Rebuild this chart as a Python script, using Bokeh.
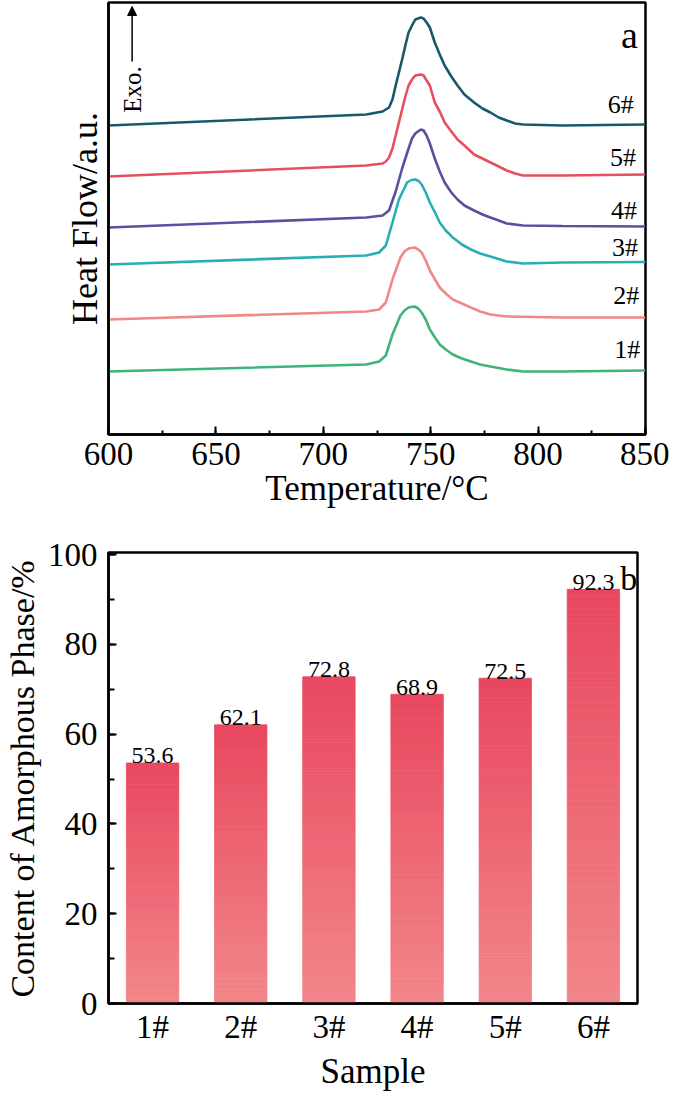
from math import pi
from bokeh.plotting import figure
from bokeh.layouts import column
from bokeh.models import (Range1d, FactorRange, SingleIntervalTicker, FixedTicker,
                          Label, Arrow, NormalHead, ColumnDataSource)
from bokeh.core.properties import value
from bokeh.embed import file_html
from bokeh.resources import INLINE

FONT = "Liberation Serif, Times New Roman, serif"

# ---------------- data: panel a (DSC curves, arbitrary units) ----------------
samples = ["1#", "2#", "3#", "4#", "5#", "6#"]

t_s1 = [600, 720.0, 726.0, 729.1, 732.2, 735.9, 737.8, 739.7, 741.0, 742.5, 744.2, 745.8, 747.7, 749.6, 752.0, 754.2, 757.0, 760.3, 764.5, 768.7, 773.0, 777.8, 785.4, 793.0, 811.2, 850]
hf_s1 = [6.3, 7.0, 7.3, 7.9, 10.0, 11.9, 12.4, 12.7, 12.75, 12.8, 12.6, 12.2, 11.5, 10.5, 9.7, 9.0, 8.5, 8.0, 7.6, 7.3, 7.0, 6.8, 6.5, 6.3, 6.3, 6.4]

t_s2 = [600, 720.0, 726.0, 729.1, 732.2, 735.9, 737.8, 739.7, 741.0, 742.5, 744.2, 745.8, 747.7, 749.6, 752.0, 754.2, 757.0, 760.3, 764.5, 768.7, 773.0, 777.8, 785.4, 811.2, 850]
hf_s2 = [11.5, 12.3, 12.5, 13.2, 15.5, 17.7, 18.3, 18.6, 18.65, 18.7, 18.5, 18.2, 17.4, 16.4, 15.5, 14.7, 14.1, 13.5, 13.1, 12.7, 12.3, 12.0, 11.8, 11.7, 11.7]

t_s3 = [600, 720.0, 726.0, 729.1, 732.2, 735.2, 739.0, 741.0, 742.8, 744.4, 745.8, 747.7, 749.6, 752.0, 754.2, 757.0, 760.3, 764.5, 768.7, 773.0, 777.8, 785.4, 793.0, 811.2, 850]
hf_s3 = [17.0, 17.9, 18.2, 18.9, 21.2, 23.5, 25.2, 25.45, 25.5, 25.35, 25.0, 24.2, 23.2, 22.2, 21.2, 20.4, 19.7, 19.0, 18.5, 18.1, 17.8, 17.3, 17.1, 17.2, 17.25]

t_s4 = [600, 720.0, 727.6, 730.6, 733.7, 736.7, 739.7, 741.3, 742.8, 745.4, 746.7, 748.1, 749.6, 751.9, 754.2, 756.5, 759.6, 762.5, 765.7, 770.2, 774.1, 777.8, 781.7, 785.4, 793.0, 811.2, 850]
hf_s4 = [20.7, 21.7, 21.9, 22.4, 24.3, 26.6, 28.6, 29.6, 30.1, 30.5, 30.4, 29.9, 29.1, 27.6, 26.3, 25.2, 24.2, 23.5, 22.9, 22.4, 22.0, 21.7, 21.4, 21.1, 20.9, 20.85, 20.8]

t_s5 = [600, 720.0, 727.6, 729.1, 730.6, 732.2, 733.7, 735.2, 736.7, 738.2, 739.7, 741.3, 742.8, 745.4, 746.7, 748.1, 749.6, 751.9, 754.2, 756.5, 759.6, 762.5, 765.7, 770.2, 774.1, 777.8, 781.7, 785.4, 789.3, 793.0, 811.2, 850]
hf_s5 = [25.8, 26.9, 27.1, 27.3, 27.7, 28.6, 29.9, 31.2, 32.5, 33.8, 34.9, 35.5, 35.9, 36.0, 35.9, 35.4, 34.9, 33.2, 32.3, 31.2, 30.3, 29.5, 28.9, 28.0, 27.6, 27.2, 26.8, 26.4, 26.1, 25.9, 25.9, 26.0]

t_s6 = [600, 720.0, 727.6, 729.1, 730.6, 732.2, 733.7, 735.2, 736.7, 738.2, 739.7, 741.3, 742.8, 745.4, 746.7, 748.1, 749.6, 751.9, 754.2, 756.5, 759.6, 762.5, 765.7, 770.2, 774.1, 777.8, 781.7, 785.4, 789.3, 793.0, 811.2, 850]
hf_s6 = [30.9, 32.0, 32.3, 32.5, 32.7, 33.5, 34.9, 36.2, 37.5, 38.9, 40.2, 40.9, 41.5, 41.7, 41.6, 41.2, 40.7, 39.2, 38.0, 36.9, 35.8, 34.9, 34.0, 33.2, 32.6, 32.2, 31.7, 31.4, 31.1, 31.0, 30.9, 31.0]

temps = [t_s1, t_s2, t_s3, t_s4, t_s5, t_s6]
flows = [hf_s1, hf_s2, hf_s3, hf_s4, hf_s5, hf_s6]

# ---------------- data: panel b (bar chart) ----------------
amorphous = [53.6, 62.1, 72.8, 68.9, 72.5, 92.3]

# ---------------- styling ----------------
curve_colors = ["#3db57a", "#f08886", "#28afb4", "#5751a1", "#e5505c", "#17596a"]
label_pos_t = [841.5, 841.0, 840.5, 840.0, 839.5, 838.5]
label_pos_hf = [8.5, 13.9, 18.7, 22.4, 27.7, 33.0]


def style_axis(ax, tick_size="33px", title_size="35px"):
    ax.axis_line_color = "black"
    ax.axis_line_width = 2.5
    ax.major_tick_line_color = "black"
    ax.minor_tick_line_color = "black"
    ax.major_tick_line_width = 2
    ax.minor_tick_line_width = 2
    ax.major_tick_out = 0
    ax.minor_tick_out = 0
    ax.major_label_text_font = FONT
    ax.major_label_text_font_size = tick_size
    ax.major_label_text_color = "black"
    ax.axis_label_text_font = FONT
    ax.axis_label_text_font_size = title_size
    ax.axis_label_text_font_style = "normal"
    ax.axis_label_text_color = "black"


# ---------------- panel a ----------------
p1 = figure(width=669, height=528, x_range=Range1d(600, 850), y_range=Range1d(0, 43.2),
            output_backend="svg", toolbar_location=None,
            min_border_left=99, min_border_right=24, min_border_top=2, min_border_bottom=94)
p1.xgrid.visible = False
p1.ygrid.visible = False
p1.outline_line_color = "black"
p1.outline_line_width = 2.5
p1.outline_line_alpha = 1

for t, hf, c in zip(temps, flows, curve_colors):
    p1.line(t, hf, line_color=c, line_width=2.6)

src_lab = ColumnDataSource(dict(x=label_pos_t, y=label_pos_hf, text=samples))
p1.text(x="x", y="y", text="text", source=src_lab, text_font=value(FONT),
        text_font_size="26px", text_align="center", text_baseline="middle", text_color="black")

xa = p1.xaxis[0]
xa.ticker = SingleIntervalTicker(interval=50, num_minor_ticks=2)
style_axis(xa)
xa.major_tick_in = 8
xa.minor_tick_in = 4
xa.major_label_standoff = 8
xa.axis_label = "Temperature/°C"
xa.axis_label_standoff = 1

ya = p1.yaxis[0]
ya.ticker = FixedTicker(ticks=[])
style_axis(ya, title_size="36px")
ya.axis_label = "Heat Flow/a.u."
ya.axis_label_standoff = 4

p1.add_layout(Label(x=842.5, y=40.0, text="a", text_font=FONT, text_font_size="38px",
                    text_align="center", text_baseline="alphabetic", text_color="black"))
p1.add_layout(Label(x=611, y=34.5, text="Exo.", angle=pi / 2, text_font=FONT,
                    text_font_size="25px", text_align="center", text_baseline="middle",
                    text_color="black"))
p1.add_layout(Arrow(end=NormalHead(size=9, fill_color="black", line_color="black"),
                    x_start=611, y_start=37.3, x_end=611, y_end=42.8,
                    line_color="black", line_width=1.5))

# ---------------- panel b ----------------
p2 = figure(width=661, height=565, x_range=FactorRange(factors=samples, range_padding=0),
            y_range=Range1d(0, 100.5), output_backend="svg", toolbar_location=None,
            min_border_left=99, min_border_right=13, min_border_top=24, min_border_bottom=85)
p2.xgrid.visible = False
p2.ygrid.visible = False
p2.outline_line_color = "black"
p2.outline_line_width = 2.5
p2.outline_line_alpha = 1

grad_top = (232, 71, 95)
grad_bot = (242, 134, 138)
nseg = 110
bx, bb, bt, bc = [], [], [], []
for s, v in zip(samples, amorphous):
    for i in range(nseg):
        f = (i + 0.5) / nseg
        r = round(grad_bot[0] + (grad_top[0] - grad_bot[0]) * f)
        g = round(grad_bot[1] + (grad_top[1] - grad_bot[1]) * f)
        b = round(grad_bot[2] + (grad_top[2] - grad_bot[2]) * f)
        bx.append(s)
        bb.append(v * i / nseg)
        bt.append(v * (i + 1) / nseg)
        bc.append("#%02x%02x%02x" % (r, g, b))
src_bar = ColumnDataSource(dict(x=bx, bottom=bb, top=bt, color=bc))
p2.vbar(x="x", bottom="bottom", top="top", width=0.594, fill_color="color",
        line_color="color", line_width=0.8, source=src_bar)

src_val = ColumnDataSource(dict(x=samples, y=amorphous, text=["%.1f" % v for v in amorphous]))
p2.text(x="x", y="y", text="text", source=src_val, text_font=value(FONT),
        text_font_size="24px", text_align="center", text_baseline="alphabetic",
        y_offset=-7, text_color="black")

xb = p2.xaxis[0]
style_axis(xb)
xb.major_tick_line_color = None
xb.major_label_standoff = 5
xb.axis_label = "Sample"
xb.axis_label_standoff = 4

yb = p2.yaxis[0]
yb.ticker = SingleIntervalTicker(interval=20, num_minor_ticks=2)
style_axis(yb, title_size="34px")
yb.major_tick_in = 8
yb.minor_tick_in = 6
yb.major_label_standoff = 11
yb.axis_label = "Content of Amorphous Phase/%"
yb.axis_label_standoff = 4

p2.add_layout(Label(x=5.9, y=94.8, text="b", text_font=FONT, text_font_size="34px",
                    text_align="center", text_baseline="middle", text_color="black"))

layout = column(p1, p2, spacing=0)
open("out.html", "w").write(file_html(layout, INLINE))
